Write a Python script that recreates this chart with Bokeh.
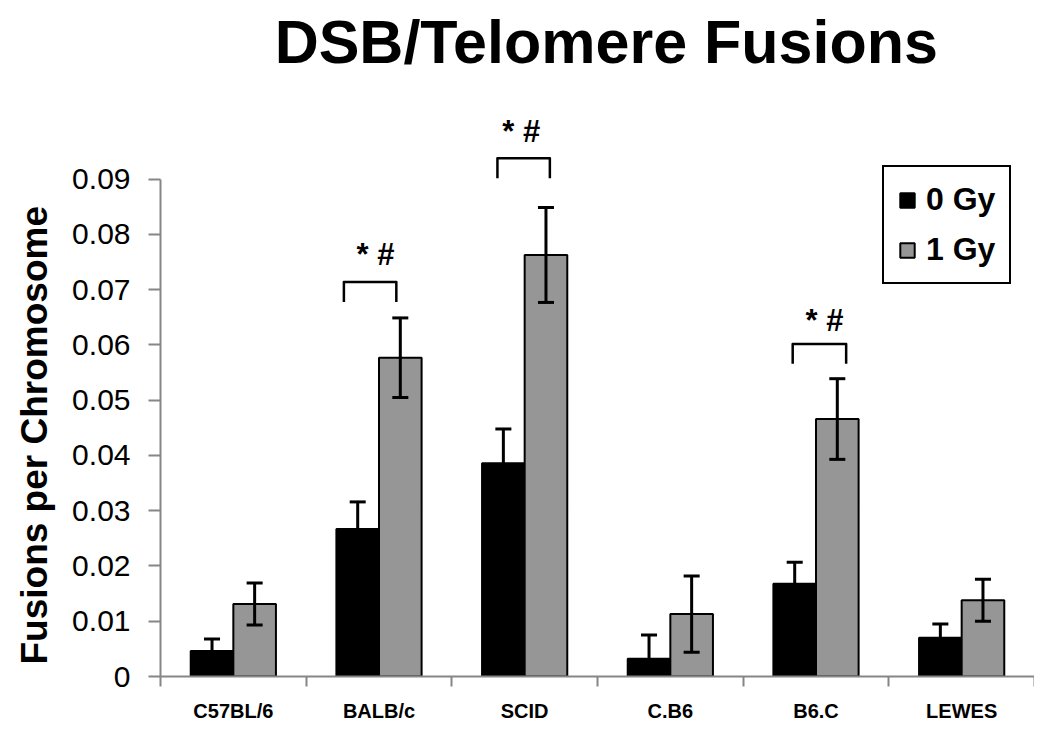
import numpy as np
from bokeh.plotting import figure
from bokeh.models import (Range1d, FixedTicker, CustomJSTickFormatter, Legend,
                          LegendItem, ColumnDataSource, Title)
from bokeh.core.properties import value
from bokeh.embed import file_html
from bokeh.resources import INLINE

# ---- data ----
title = "DSB/Telomere Fusions"
y_label = "Fusions per Chromosome"
strains = ["C57BL/6", "BALB/c", "SCID", "C.B6", "B6.C", "LEWES"]
gy0 = [0.0046, 0.0267, 0.0386, 0.0032, 0.0168, 0.0070]
gy0_err = [0.0022, 0.0049, 0.0062, 0.0043, 0.0039, 0.0025]
gy1 = [0.0131, 0.0577, 0.0763, 0.0113, 0.0466, 0.0138]
gy1_err = [0.0038, 0.0072, 0.0086, 0.0069, 0.0073, 0.0038]
y_ticks = [0, 0.01, 0.02, 0.03, 0.04, 0.05, 0.06, 0.07, 0.08, 0.09]
series_labels = ["0 Gy", "1 Gy"]
sig_strains = ["BALB/c", "SCID", "B6.C"]
sig_text = "* #"
sig_bracket_top = [0.0714, 0.0938, 0.0602]
sig_text_y = [0.0763, 0.0987, 0.0644]

# ---- annotation layout (offsets from category centre, in category units) ----
br_left = [-0.241, -0.187, -0.160]
br_right = [0.119, 0.173, 0.207]
txt_dx = [-0.024, -0.024, 0.058]
br_drop = 0.0036

FONT = "Liberation Sans"
GRAY_AXIS = "#868686"
BAR_GRAY = "#969696"

n = len(strains)
centers = np.arange(n) + 0.5
bw = 0.2925
x0 = centers - bw / 2
x1 = centers + bw / 2

FRAME_H = 677
PX_PER_UNIT = 498 / 0.09
y_top = FRAME_H / PX_PER_UNIT

p = figure(width=1034, height=724, x_range=Range1d(0, n), y_range=Range1d(0, y_top),
           output_backend="svg", toolbar_location=None,
           min_border_left=160, min_border_right=0, min_border_top=0, min_border_bottom=47)
p.title.text = ""
p.title.visible = False
p.grid.visible = False
p.outline_line_color = None
p.background_fill_color = "white"
p.border_fill_color = "white"

# title (drawn inside the plotting area, above the data)
p.text(x=[3.06], y=[y_top - 42 / PX_PER_UNIT], text=[title], text_align="center",
       text_baseline="alphabetic", text_font=value(FONT),
       text_font_size="61px", text_font_style="bold", text_color="black")

# bars
src0 = ColumnDataSource(dict(x=x0, top=gy0,
                             lo=np.clip(np.array(gy0) - np.array(gy0_err), 0, None),
                             hi=np.array(gy0) + np.array(gy0_err)))
src1 = ColumnDataSource(dict(x=x1, top=gy1, lo=np.array(gy1) - np.array(gy1_err),
                             hi=np.array(gy1) + np.array(gy1_err)))
r0 = p.vbar(x="x", top="top", width=bw, source=src0, fill_color="black",
            line_color="black", line_width=2)
r1 = p.vbar(x="x", top="top", width=bw, source=src1, fill_color=BAR_GRAY,
            line_color="black", line_width=2)

# error bars
cw = 0.055
for src in (src0, src1):
    d = src.data
    p.segment(x0="x", y0="lo", x1="x", y1="hi", source=src, line_color="black", line_width=3)
    p.segment(x0=d["x"] - cw, y0=d["hi"], x1=d["x"] + cw, y1=d["hi"], line_color="black", line_width=3)
    p.segment(x0=d["x"] - cw, y0=d["lo"], x1=d["x"] + cw, y1=d["lo"], line_color="black", line_width=3)

# significance brackets
xs, ys, tx = [], [], []
for k, (name, top) in enumerate(zip(sig_strains, sig_bracket_top)):
    c = centers[strains.index(name)]
    a = c + br_left[k]
    b = c + br_right[k]
    xs.append([a, a, b, b])
    ys.append([top - br_drop, top, top, top - br_drop])
    tx.append(c + txt_dx[k])
p.multi_line(xs=xs, ys=ys, line_color="black", line_width=2.5, line_join="round")
p.text(x=tx, y=sig_text_y, text=[sig_text] * len(tx), text_align="center",
       text_baseline="middle", text_font=value(FONT), text_font_size="31px",
       text_font_style="bold", text_color="black")

# y axis
ya = p.yaxis[0]
ya.ticker = FixedTicker(ticks=y_ticks)
ya.bounds = (0, 0.09)
ya.formatter = CustomJSTickFormatter(code="return tick == 0 ? '0' : tick.toFixed(2);")
ya.axis_line_color = GRAY_AXIS
ya.axis_line_width = 2
ya.major_tick_line_color = GRAY_AXIS
ya.major_tick_line_width = 2
ya.major_tick_out = 12
ya.major_tick_in = 0
ya.minor_tick_line_color = None
ya.major_label_standoff = 18
ya.major_label_text_font = FONT
ya.major_label_text_font_size = "30px"
ya.major_label_text_color = "black"

# y axis title as a side title, aligned to the axis extent
ytitle = Title(text=y_label, align="left", vertical_align="top", offset=12, standoff=25,
               text_font=FONT, text_font_size="37px", text_font_style="bold",
               text_color="black")
p.add_layout(ytitle, "left")

# x axis
xa = p.xaxis[0]
xa.ticker = FixedTicker(ticks=list(centers), minor_ticks=list(np.arange(n + 1)))
xa.formatter = CustomJSTickFormatter(args=dict(names=strains),
                                     code="return names[Math.floor(tick)];")
xa.axis_line_color = GRAY_AXIS
xa.axis_line_width = 2
xa.major_tick_line_color = None
xa.major_tick_out = 0
xa.major_tick_in = 0
xa.minor_tick_line_color = GRAY_AXIS
xa.minor_tick_line_width = 2
xa.minor_tick_out = 10
xa.minor_tick_in = 0
xa.major_label_standoff = 13
xa.major_label_text_font = FONT
xa.major_label_text_font_size = "20px"
xa.major_label_text_font_style = "bold"
xa.major_label_text_color = "black"

# legend
legend = Legend(items=[LegendItem(label=series_labels[0], renderers=[r0]),
                       LegendItem(label=series_labels[1], renderers=[r1])],
                location=(722, 392))
legend.border_line_color = "black"
legend.border_line_alpha = 1
legend.border_line_width = 2
legend.background_fill_color = "white"
legend.background_fill_alpha = 1
legend.label_text_font = FONT
legend.label_text_font_size = "32px"
legend.label_text_font_style = "bold"
legend.label_text_color = "black"
legend.glyph_width = 18
legend.glyph_height = 18
legend.label_standoff = 10
legend.padding = 14
legend.spacing = 13
legend.margin = 0
p.add_layout(legend)

open("out.html", "w").write(file_html(p, INLINE))
